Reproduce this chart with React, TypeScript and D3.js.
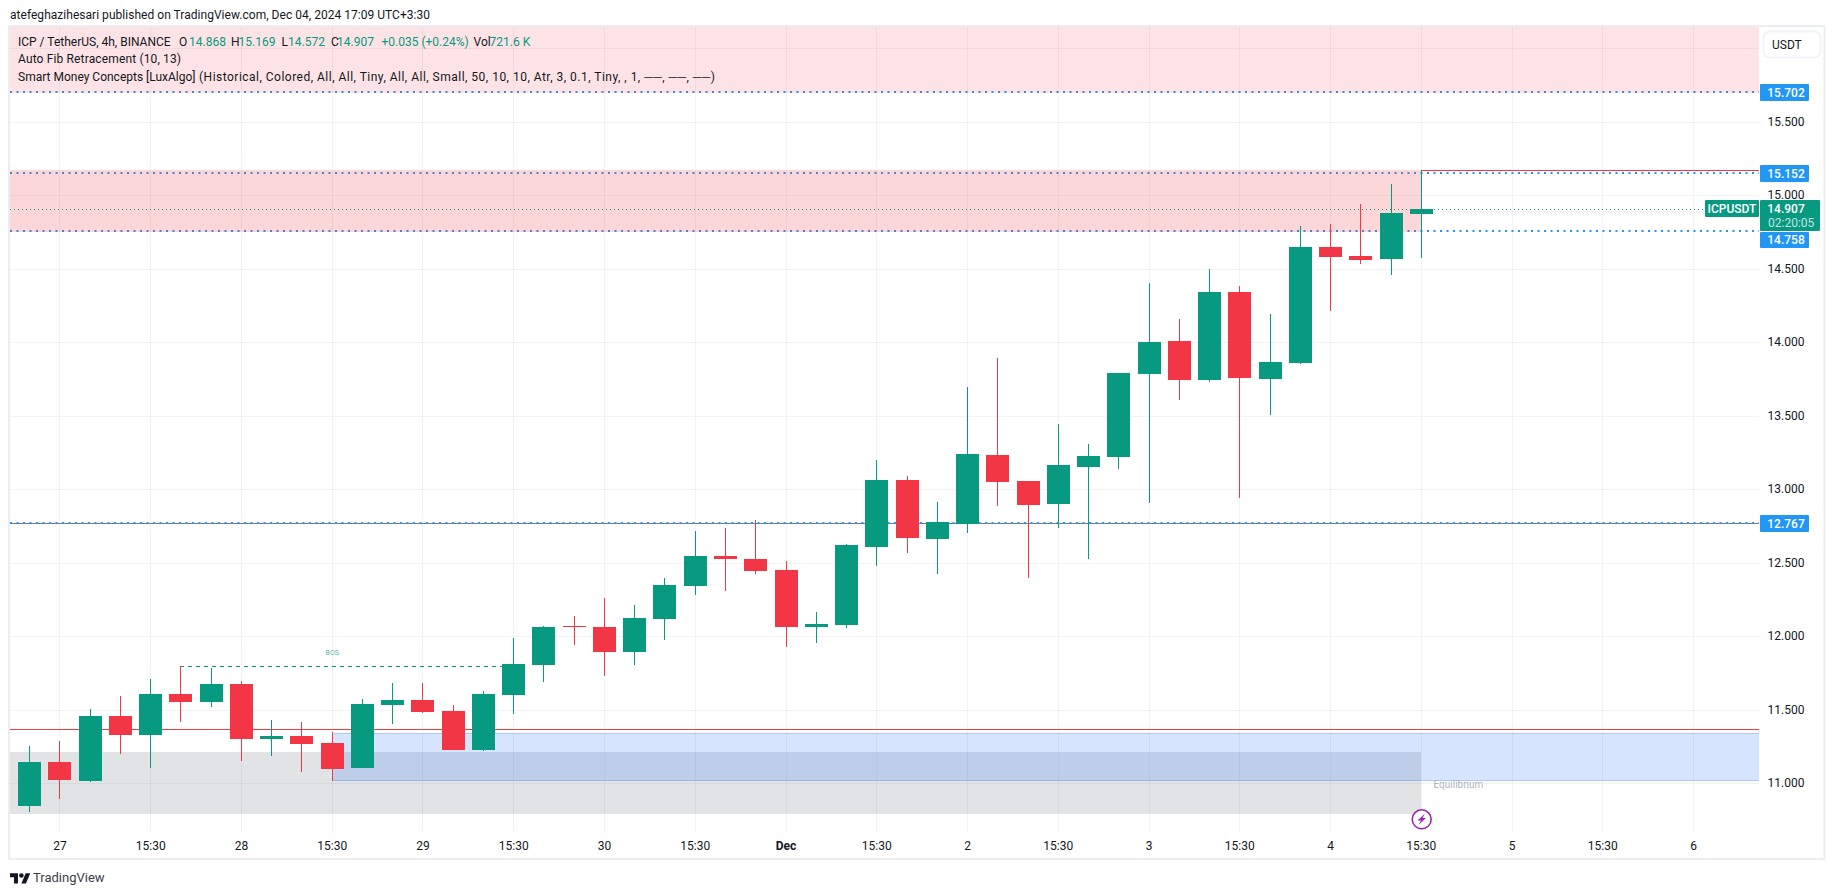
import React from "react";
import * as d3 from "d3";

const opens = [10.842,11.141,11.012,11.454,11.325,11.604,11.550,11.672,11.298,11.318,11.271,11.100,11.529,11.563,11.488,11.223,11.597,11.801,12.067,12.060,11.890,12.114,12.339,12.543,12.522,12.447,12.060,12.073,12.604,13.060,12.658,12.760,13.230,13.053,12.896,13.148,13.216,13.781,14.005,13.740,14.339,13.747,13.856,14.645,14.584,14.563,14.868];
const highs = [11.250,11.284,11.502,11.590,11.706,11.799,11.781,11.692,11.427,11.413,11.345,11.570,11.679,11.679,11.529,11.624,11.985,12.067,12.135,12.257,12.209,12.393,12.713,12.733,12.788,12.509,12.162,12.624,13.196,13.087,12.910,13.692,13.890,13.053,13.441,13.305,13.788,14.400,14.155,14.495,14.379,14.189,14.788,14.801,14.937,15.073,15.169];
const lows = [10.801,10.890,11.005,11.196,11.100,11.413,11.515,11.148,11.182,11.073,11.012,11.100,11.400,11.475,11.488,11.216,11.468,11.686,11.937,11.726,11.801,11.971,12.277,12.305,12.420,11.924,11.951,12.053,12.475,12.563,12.420,12.699,12.883,12.393,12.733,12.522,13.135,12.903,13.604,13.726,12.937,13.502,13.849,14.209,14.529,14.454,14.572];
const closes = [11.141,11.019,11.454,11.325,11.604,11.550,11.672,11.298,11.318,11.264,11.094,11.536,11.563,11.481,11.223,11.604,11.808,12.060,12.060,11.890,12.121,12.345,12.543,12.522,12.441,12.060,12.080,12.618,13.060,12.665,12.774,13.237,13.046,12.890,13.162,13.223,13.788,13.998,13.740,14.339,13.754,13.862,14.645,14.577,14.556,14.876,14.907];

const xTickIndex = [1,4,7,10,13,16,19,22,25,28,31,34,37,40,43,46,49,52,55];
const xTickLabels = ["27","15:30","28","15:30","29","15:30","30","15:30","Dec","15:30","2","15:30","3","15:30","4","15:30","5","15:30","6"];
const priceTicks = [16,15.5,15,14.5,14,13.5,13,12.5,12,11.5,11];
const priceLabels = [15.5,15,14.5,14,13.5,13,12.5,12,11.5,11];
const fibLevels = [15.702,15.152,14.758,12.767];
const legendLine1 = [
  ["ICP / TetherUS, 4h, BINANCE", 18, "#131722"],
  ["O", 179, "#131722"],["14.868", 189, "#089981"],
  ["H", 231, "#131722"],["15.169", 238.5, "#089981"],
  ["L", 281.6, "#131722"],["14.572", 288, "#089981"],
  ["C", 331, "#131722"],["14.907", 337, "#089981"],
  ["+0.035 (+0.24%)", 381.5, "#089981"],
  ["Vol", 473.6, "#131722"],["721.6 K", 489.6, "#089981"],
];

const UP = "#089981", DOWN = "#f23645", BLUE = "#2196f3";
const FONT = "Roboto, sans-serif";
const plotL = 10, plotR = 1759, plotT = 27, plotB = 832;

const x = d3.scaleLinear().domain([0, 46]).range([29.7, 1421.3]);
const y = d3.scaleLinear().domain([11, 15.5]).range([783, 121.5]);
const px = (i: number) => Math.floor(x(i));
const py = (p: number) => Math.round(y(p));

export default function App() {
  const last = closes[closes.length - 1];
  const fmt = d3.format(".3f");
  return (
    <svg width={1835} height={895} viewBox="0 0 1835 895" style={{ position: "absolute", left: 0, top: 0, display: "block", background: "#fff" }} fontFamily={FONT}>
      <text x={10} y={15} dy="0.35em" fontSize={12} fill="#131722" textLength={420}>atefeghazihesari published on TradingView.com, Dec 04, 2024 17:09 UTC+3:30</text>

      {/* grid */}
      {priceTicks.map(p => <rect key={p} x={plotL} width={plotR - plotL} y={py(p)} height={1} fill="#2a2e39" fillOpacity={0.06} />)}
      {xTickIndex.map(i => <rect key={i} x={px(i)} width={1} y={plotT} height={plotB - plotT} fill="#2a2e39" fillOpacity={0.06} />)}

      {/* lines under the zones */}
      <rect x={plotL} y={py(11.366)} width={plotR - plotL} height={1} fill="#e8403f" />
      <rect x={plotL} y={py(12.767)} width={plotR - plotL} height={1} fill="#787b86" />
      {fibLevels.map(l => (
        <line key={l} x1={plotL} x2={plotR} y1={py(l)} y2={py(l)} stroke={BLUE} strokeWidth={2} strokeDasharray="2 4.5" />
      ))}

      {/* zones */}
      <rect x={plotL} y={plotT} width={plotR - plotL} height={py(15.702) + 1 - plotT} fill="#f23645" fillOpacity={0.14} />
      <rect x={plotL} y={py(15.169)} width={px(46) - plotL} height={py(14.758) + 1 - py(15.169)} fill="#f23645" fillOpacity={0.2} />
      <rect x={plotL} y={py(11.209)} width={px(46) - plotL} height={py(10.79) - py(11.209)} fill="#787b86" fillOpacity={0.21} />
      <rect x={px(10)} y={py(11.343)} width={plotR - px(10)} height={py(11.014) - py(11.343)} fill="#3179f5" fillOpacity={0.2} />
      <rect x={px(10)} y={py(11.343)} width={plotR - px(10)} height={1} fill="#3179f5" fillOpacity={0.25} />
      <rect x={px(10)} y={py(11.014) - 1} width={plotR - px(10)} height={1} fill="#3179f5" fillOpacity={0.25} />

      <line x1={plotL} x2={1705} y1={py(last) + 0.5} y2={py(last) + 0.5} stroke={UP} strokeWidth={1} strokeDasharray="1 3" />
      <rect x={px(46)} y={py(15.169)} width={plotR - px(46)} height={1} fill="#f23645" />
      <line x1={px(5)} x2={px(16)} y1={py(11.799) + 0.5} y2={py(11.799) + 0.5} stroke={UP} strokeWidth={1} strokeDasharray="4 4" />
      <text x={x(10)} y={653} textAnchor="middle" dy="0.35em" fontSize={7} fill={UP} fillOpacity={0.75}>BOS</text>
      <text x={1433.5} y={784} dy="0.35em" fontSize={10} fill="#b2b5be">Equilibrium</text>

      {/* candles */}
      {opens.map((o, i) => {
        const c = closes[i], col = c >= o ? UP : DOWN;
        const top = py(Math.max(o, c)), bot = py(Math.min(o, c));
        return (
          <g key={i} fill={col}>
            <rect x={px(i)} width={1} y={py(highs[i])} height={py(lows[i]) - py(highs[i])} />
            <rect x={px(i) - 11} width={23} y={top} height={Math.max(bot - top, 1)} />
          </g>
        );
      })}

      {/* legend */}
      {legendLine1.map(([t, lx, col]) => (
        <text key={String(lx)} x={lx as number} y={41.7} dy="0.35em" fontSize={12} fill={col as string}>{t}</text>
      ))}
      <text x={18} y={59} dy="0.35em" fontSize={12} fill="#131722" textLength={163}>Auto Fib Retracement (10, 13)</text>
      <text x={18} y={76.3} dy="0.35em" fontSize={12} fill="#131722">Smart Money Concepts [LuxAlgo]</text>
      <text x={199} y={76.3} dy="0.35em" fontSize={12} fill="#131722" textLength={516}>(Historical, Colored, All, All, Tiny, All, All, Small, 50, 10, 10, Atr, 3, 0.1, Tiny, , 1, ──, ──, ──)</text>

      {/* y axis */}
      {priceLabels.map(p => (
        <text key={p} x={1786} y={y(p)} textAnchor="middle" dy="0.35em" fontSize={12} fill="#131722">{fmt(p)}</text>
      ))}
      {[15.702, 15.152, 12.767].map(l => (
        <g key={l}>
          <rect x={1760} y={py(l) - 8} width={49} height={17} rx={1} fill={BLUE} />
          <text x={1786} y={py(l) + 0.5} textAnchor="middle" dy="0.35em" fontSize={12} fontWeight={500} fill="#fff">{fmt(l)}</text>
        </g>
      ))}
      <rect x={1760} y={232} width={49} height={16} rx={1} fill={BLUE} />
      <text x={1786} y={240} textAnchor="middle" dy="0.35em" fontSize={12} fontWeight={500} fill="#fff">{fmt(14.758)}</text>
      <rect x={1705} y={200} width={54} height={17} rx={1} fill={UP} />
      <text x={1732} y={208.7} textAnchor="middle" dy="0.35em" fontSize={12} fontWeight={500} fill="#fff">ICPUSDT</text>
      <rect x={1760} y={200} width={60} height={31} rx={1} fill={UP} />
      <text x={1786} y={208.7} textAnchor="middle" dy="0.35em" fontSize={12} fontWeight={500} fill="#fff">{fmt(last)}</text>
      <text x={1768} y={222.7} dy="0.35em" fontSize={12} fill="#fff" fillOpacity={0.75}>02:20:05</text>
      <rect x={1763.5} y={31.5} width={57} height={26} rx={6} fill="#fff" stroke="#f0f3fa" strokeWidth={2} />
      <text x={1772} y={44.5} dy="0.35em" fontSize={12} fill="#131722">USDT</text>

      {/* x axis */}
      {xTickIndex.map((i, k) => (
        <text key={i} x={x(i)} y={845.7} textAnchor="middle" dy="0.35em" fontSize={12} fontWeight={xTickLabels[k] === "Dec" ? 700 : 400} fill="#131722">{xTickLabels[k]}</text>
      ))}
      <circle cx={1421.7} cy={819.3} r={9.5} fill="#fff" stroke="#9c27b0" strokeWidth={1.6} />
      <path d="M1425 813.5 L1417.5 820.5 L1421 820.5 L1418.5 825 L1426 818 L1422.5 818 Z" fill="#9c27b0" />

      {/* frame */}
      <rect x={9} y={26} width={1815.5} height={833} fill="none" stroke="#ebedf3" strokeWidth={2} />

      {/* logo */}
      <g transform="translate(10,871) scale(0.57)" fill="#131722">
        <path d="M14 22H7V11H0V4h14v18zM28 22h-8l7.5-18h8L28 22z" />
        <circle cx={20} cy={8} r={4} />
      </g>
      <text x={33} y={877} dy="0.35em" fontSize={13} fill="#3b3e47">TradingView</text>
    </svg>
  );
}
